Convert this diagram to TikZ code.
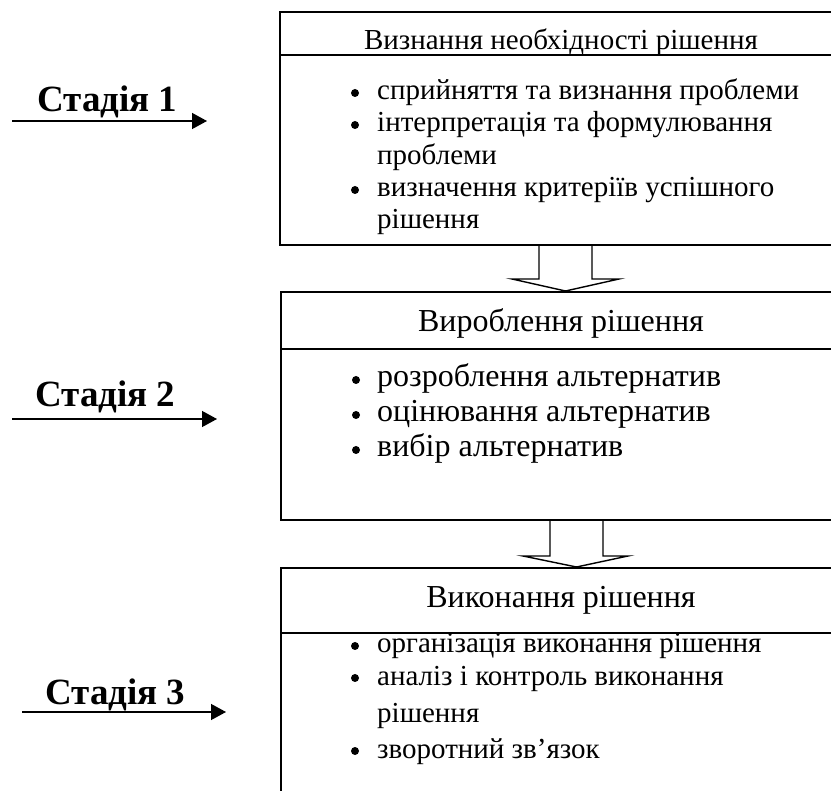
\documentclass[tikz,border=0pt]{standalone}
\usepackage{fontspec}
\setmainfont{Liberation Serif}
\usetikzlibrary{arrows.meta,calc}
\begin{document}
\begin{tikzpicture}[x=1pt,y=-1pt,
  boxline/.style={line width=1.6pt},
  divline/.style={line width=1.2pt},
  ttlA/.style={anchor=base, font=\fontsize{29}{33}\selectfont, inner sep=0pt},
  ttlB/.style={anchor=base, font=\fontsize{32}{36}\selectfont, inner sep=0pt},
  itmA/.style={anchor=base west, font=\fontsize{29}{33}\selectfont, inner sep=0pt},
  itmB/.style={anchor=base west, font=\fontsize{32}{36}\selectfont, inner sep=0pt},
  bul/.style={circle, fill=black, inner sep=0pt, minimum size=8pt},
  stage/.style={anchor=base west, font=\bfseries\fontsize{37}{42}\selectfont, inner sep=0pt},
  stagearrow/.style={line width=1.4pt, -{Triangle[length=15pt,width=16pt]}},
  blockarrow/.style={line width=1.4pt, line join=miter}]
\useasboundingbox (0,0) rectangle (831,791);

% ---------- Box 1 ----------
\draw[boxline] (831,12) -- (280,12) -- (280,245) -- (831,245);
\draw[divline] (280,55) -- (831,55);
\node[ttlA] (t1) at (561,50) {Визнання необхідності рішення};
\node[bul] (b11) at (355,93) {};
\node[itmA] (i11) at (377,100) {сприйняття та визнання проблеми};
\node[bul] (b12) at (355,125) {};
\node[itmA] (i12) at (377,132) {інтерпретація та формулювання};
\node[itmA] (i12b) at (377,165) {проблеми};
\node[bul] (b13) at (355,190) {};
\node[itmA] (i13) at (377,197) {визначення критеріїв успішного};
\node[itmA] (i13b) at (377,229) {рішення};

% ---------- Box 2 ----------
\draw[boxline] (831,292) -- (281,292) -- (281,520) -- (831,520);
\draw[divline] (281,349) -- (831,349);
\node[ttlB] (t2) at (561,332) {Вироблення рішення};
\node[bul] (b21) at (356,380) {};
\node[itmB] (i21) at (377,387) {розроблення альтернатив};
\node[bul] (b22) at (356,415) {};
\node[itmB] (i22) at (377,422) {оцінювання альтернатив};
\node[bul] (b23) at (356,450) {};
\node[itmB] (i23) at (377,457) {вибір альтернатив};

% ---------- Box 3 ----------
\draw[boxline] (281,791) -- (281,568) -- (831,568);
\draw[divline] (281,633) -- (831,633);
\node[ttlB] (t3) at (561,608) {Виконання рішення};
\node[bul] (b31) at (355,646) {};
\node[itmA] (i31) at (377,653) {організація виконання рішення};
\node[bul] (b32) at (355,678) {};
\node[itmA] (i32) at (377,685) {аналіз і контроль виконання};
\node[itmA] (i32b) at (377,722) {рішення};
\node[bul] (b33) at (355,751) {};
\node[itmA] (i33) at (377,758) {зворотний зв’язок};

% ---------- Block arrows between boxes ----------
\coordinate (a1) at (565.5,245);
\coordinate (a2) at (576.5,520);
\draw[blockarrow] ($(a1)+(-26.5,0)$) -- ($(a1)+(-26.5,34)$) -- ($(a1)+(-53.5,34)$)
  -- ($(a1)+(0,46)$) -- ($(a1)+(53.5,34)$) -- ($(a1)+(26.5,34)$) -- ($(a1)+(26.5,0)$);
\draw[blockarrow] ($(a2)+(-26.5,0)$) -- ($(a2)+(-26.5,36)$) -- ($(a2)+(-53.5,36)$)
  -- ($(a2)+(0,47)$) -- ($(a2)+(51.5,36)$) -- ($(a2)+(26.5,36)$) -- ($(a2)+(26.5,0)$);

% ---------- Stage labels ----------
\node[stage] (s1) at (37,112) {Стадія 1};
\coordinate (s1a) at (12,121); \coordinate (s1b) at (207,121);
\draw[stagearrow] (s1a) -- (s1b);
\node[stage] (s2) at (35,407) {Стадія 2};
\coordinate (s2a) at (12,419); \coordinate (s2b) at (217,419);
\draw[stagearrow] (s2a) -- (s2b);
\node[stage] (s3) at (45,704) {Стадія 3};
\coordinate (s3a) at (22,712); \coordinate (s3b) at (226,712);
\draw[stagearrow] (s3a) -- (s3b);
\end{tikzpicture}
\end{document}
